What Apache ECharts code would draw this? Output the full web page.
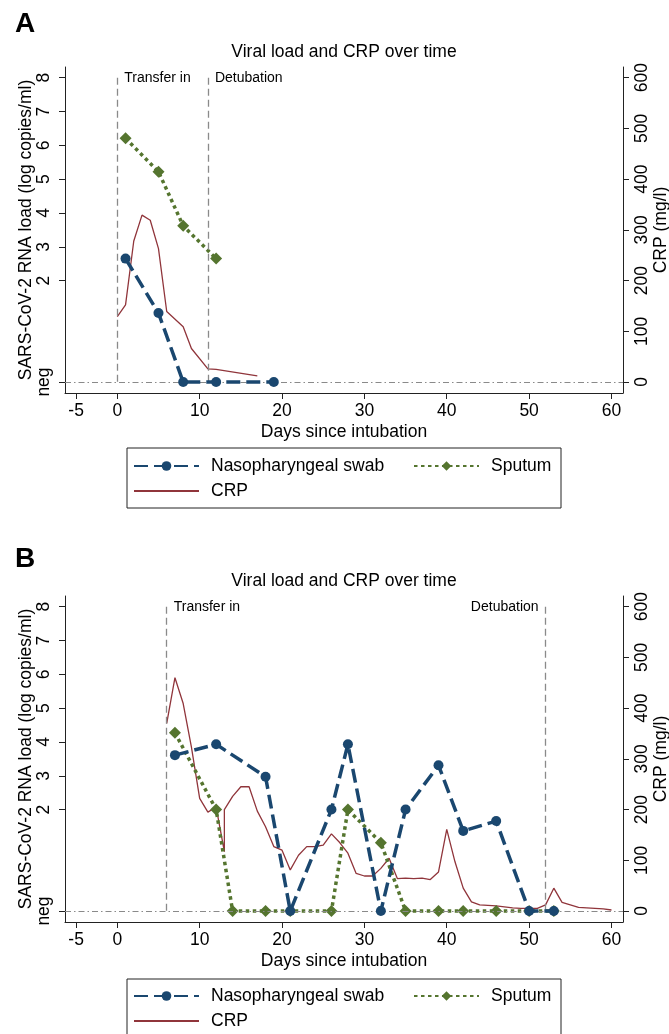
<!DOCTYPE html>
<html><head><meta charset="utf-8">
<script src="https://cdn.jsdelivr.net/npm/echarts@6/dist/echarts.min.js"></script>
<style>html,body{margin:0;padding:0;background:#fff}#c{width:669px;height:1034px}</style>
</head><body><div id="c"></div>
<script>
// ---------- data ----------
const NEG = -1; // position of the "neg" level on the viral-load axis
const xTickValues = [-5, 0, 10, 20, 30, 40, 50, 60];
const loadTickValues = [NEG, 2, 3, 4, 5, 6, 7, 8];
const crpTickValues = [0, 100, 200, 300, 400, 500, 600];

// Panel A
const npDaysA = [1, 5, 8, 12, 19];
const npLoadA = [2.65, 1.04, NEG, NEG, NEG];
const spDaysA = [1, 5, 8, 12];
const spLoadA = [6.21, 5.22, 3.62, 2.65];
const crpDaysA = [0, 1, 2, 3, 4, 5, 6, 8, 9, 11, 12, 17];
const crpValA = [129, 152, 278, 329, 319, 263, 139, 109, 66, 26, 25, 12];
const eventsA = [{day: 0, name: 'Transfer in', side: 'right'}, {day: 11, name: 'Detubation', side: 'right'}];

// Panel B
const npDaysB = [7, 12, 18, 21, 26, 28, 32, 35, 39, 42, 46, 50, 53];
const npLoadB = [3.61, 3.93, 2.97, NEG, 2.0, 3.93, NEG, 2.0, 3.31, 1.37, 1.66, NEG, NEG];
const spDaysB = [7, 12, 14, 18, 21, 26, 28, 32, 35, 39, 42, 46, 50, 53];
const spLoadB = [4.27, 2.0, NEG, NEG, NEG, NEG, 2.0, 1.02, NEG, NEG, NEG, NEG, NEG, NEG];
const crpDaysB = [6, 7, 8, 9, 10, 11, 12, 13, 13, 14, 15, 16, 17, 18, 19, 20, 21, 22, 23, 24, 25, 26, 27, 28, 29, 30,
  31, 32, 33, 34, 35, 36, 37, 38, 39, 40, 41, 42, 43, 44, 45, 46, 47, 48, 49, 50, 51, 52, 53, 54, 55, 56, 57, 58, 59, 60];
const crpValB = [370, 460, 409, 323, 222, 195, 205, 117, 200, 226, 245, 245, 197, 166, 127, 120, 81, 110, 127, 127, 130, 152, 135, 114, 74, 69,
  69, 84, 104, 64, 65, 64, 65, 62, 77, 161, 97, 45, 18, 12, 11, 10, 8, 6, 5, 5, 5, 12, 45, 17, 12, 7, 6, 5, 4, 2];
const eventsB = [{day: 6, name: 'Transfer in', side: 'right'}, {day: 52, name: 'Detubation', side: 'left'}];

// ---------- styling ----------
const FONT = '"Liberation Sans", Arial, sans-serif';
const NAVY = '#1a476f', GREEN = '#55752f', MAROON = '#90353b', REF = '#8a8a8a';
const zip = (a, b) => a.map((v, i) => [v, b[i]]);

const grids = [
  {left: 65, right: 46, top: 67, height: 326, outerBoundsMode: 'none', containLabel: false},
  {left: 65, right: 46, top: 596, height: 326, outerBoundsMode: 'none', containLabel: false}
];

function xAxis(gi) {
  return {
    type: 'value', gridIndex: gi, min: -6.35, max: 61.4,
    name: 'Days since intubation', nameLocation: 'middle', nameGap: 30, nameMoveOverlap: false,
    nameTextStyle: {fontFamily: FONT, fontSize: 17.5, color: '#000'},
    axisLine: {onZero: false, lineStyle: {color: '#222', width: 1}},
    axisTick: {customValues: xTickValues, length: 6, lineStyle: {color: '#222'}},
    axisLabel: {customValues: xTickValues, fontFamily: FONT, fontSize: 17.5, color: '#000', margin: 9},
    splitLine: {show: false}
  };
}
function yLeft(gi) {
  return {
    type: 'value', gridIndex: gi, position: 'left', min: -1.325, max: 8.317,
    name: 'SARS-CoV-2 RNA load (log copies/ml)', nameLocation: 'middle', nameGap: 30, nameRotate: 90,
    nameMoveOverlap: false,
    nameTextStyle: {fontFamily: FONT, fontSize: 17.5, color: '#000'},
    axisLine: {show: true, onZero: false, lineStyle: {color: '#222', width: 1}},
    axisTick: {show: true, customValues: loadTickValues, length: 6, lineStyle: {color: '#222'}},
    axisLabel: {customValues: loadTickValues, rotate: 90, fontFamily: FONT, fontSize: 17.5, color: '#000', margin: 12,
      formatter: v => (v === NEG ? 'neg' : String(v))},
    splitLine: {show: false}
  };
}
function yRight(gi) {
  return {
    type: 'value', gridIndex: gi, position: 'right', min: -21.7, max: 621.1,
    name: 'CRP (mg/l)', nameLocation: 'middle', nameGap: 29, nameRotate: 90, nameMoveOverlap: false,
    nameTextStyle: {fontFamily: FONT, fontSize: 17.5, color: '#000'},
    axisLine: {show: true, onZero: false, lineStyle: {color: '#222', width: 1}},
    axisTick: {show: true, customValues: crpTickValues, length: 6, lineStyle: {color: '#222'}},
    axisLabel: {customValues: crpTickValues, rotate: 90, fontFamily: FONT, fontSize: 17.5, color: '#000', margin: 10},
    splitLine: {show: false}
  };
}

function panelSeries(gi, np, sp, crp, events) {
  const yl = gi * 2, yr = gi * 2 + 1;
  return [
    {
      name: 'ref' + gi, type: 'line', xAxisIndex: gi, yAxisIndex: yl, data: [[events[0].day, NEG]],
      showSymbol: false, lineStyle: {opacity: 0}, silent: true, z: 1,
      markLine: {
        silent: true, symbol: ['none', 'none'], animation: false,
        label: {show: false},
        lineStyle: {color: REF, type: [7, 4], width: 1.3},
        data: events.map(e => [{coord: [e.day, 8]}, {coord: [e.day, NEG]}]).concat([
          {yAxis: NEG, lineStyle: {color: REF, type: [6, 3, 1.5, 3], width: 1.1}}
        ])
      },
      markPoint: {
        silent: true, symbol: 'circle', symbolSize: 0, animation: false,
        data: events.map(e => ({
          coord: [e.day, 8], name: e.name,
          label: {show: true, position: e.side, distance: 7, formatter: '{b}',
            fontFamily: FONT, fontSize: 14, color: '#000'}
        }))
      }
    },
    {
      name: 'CRP', type: 'line', xAxisIndex: gi, yAxisIndex: yr, data: zip(crp[0], crp[1]),
      showSymbol: false, symbol: 'none', lineStyle: {color: MAROON, width: 1.3}, itemStyle: {color: MAROON}, z: 3
    },
    {
      name: 'Sputum', type: 'line', xAxisIndex: gi, yAxisIndex: yl, data: zip(sp[0], sp[1]),
      symbol: 'diamond', symbolSize: 12, itemStyle: {color: GREEN},
      lineStyle: {color: GREEN, width: 3.5, type: [3.5, 3.5]}, z: 4
    },
    {
      name: 'Nasopharyngeal swab', type: 'line', xAxisIndex: gi, yAxisIndex: yl, data: zip(np[0], np[1]),
      symbol: 'circle', symbolSize: 10, itemStyle: {color: NAVY},
      lineStyle: {color: NAVY, width: 3.5, type: [14, 6]}, z: 5
    }
  ];
}

function legends(row1, row2) {
  const base = {padding: 0, itemWidth: 65, itemHeight: 12, inactiveColor: '#000',
    textStyle: {fontFamily: FONT, fontSize: 17.5, color: '#000', padding: [0, 0, 0, 7]}};
  return [
    Object.assign({}, base, {left: 133, top: row1 - 9, data: ['Nasopharyngeal swab']}),
    Object.assign({}, base, {left: 413, top: row1 - 9, data: ['Sputum']}),
    Object.assign({}, base, {left: 133, top: row2 - 9,
      data: [{name: 'CRP', itemStyle: {color: 'rgba(0,0,0,0)', borderWidth: 0, opacity: 0}}]})
  ];
}

const option = {
  backgroundColor: '#fff',
  animation: false,
  grid: grids,
  xAxis: [xAxis(0), xAxis(1)],
  yAxis: [yLeft(0), yRight(0), yLeft(1), yRight(1)],
  legend: legends(466, 491).concat(legends(996, 1021)),
  series: panelSeries(0, [npDaysA, npLoadA], [spDaysA, spLoadA], [crpDaysA, crpValA], eventsA)
    .concat(panelSeries(1, [npDaysB, npLoadB], [spDaysB, spLoadB], [crpDaysB, crpValB], eventsB)),
  graphic: [
    {type: 'text', left: 15, top: 10, style: {text: 'A', font: 'bold 28px ' + FONT, fill: '#000'}},
    {type: 'text', left: 15, top: 545, style: {text: 'B', font: 'bold 28px ' + FONT, fill: '#000'}},
    {type: 'text', x: 344, y: 52, style: {text: 'Viral load and CRP over time', font: '17.5px ' + FONT, fill: '#000', align: 'center', verticalAlign: 'middle'}},
    {type: 'text', x: 344, y: 581, style: {text: 'Viral load and CRP over time', font: '17.5px ' + FONT, fill: '#000', align: 'center', verticalAlign: 'middle'}},
    {type: 'rect', shape: {x: 127, y: 448, width: 434, height: 60}, style: {fill: 'none', stroke: '#222', lineWidth: 1}},
    {type: 'rect', shape: {x: 127, y: 979, width: 434, height: 70}, style: {fill: 'none', stroke: '#222', lineWidth: 1}}
  ]
};

const chart = echarts.init(document.getElementById('c'), null, {renderer: 'canvas'});
chart.setOption(option);
</script>
</body></html>
